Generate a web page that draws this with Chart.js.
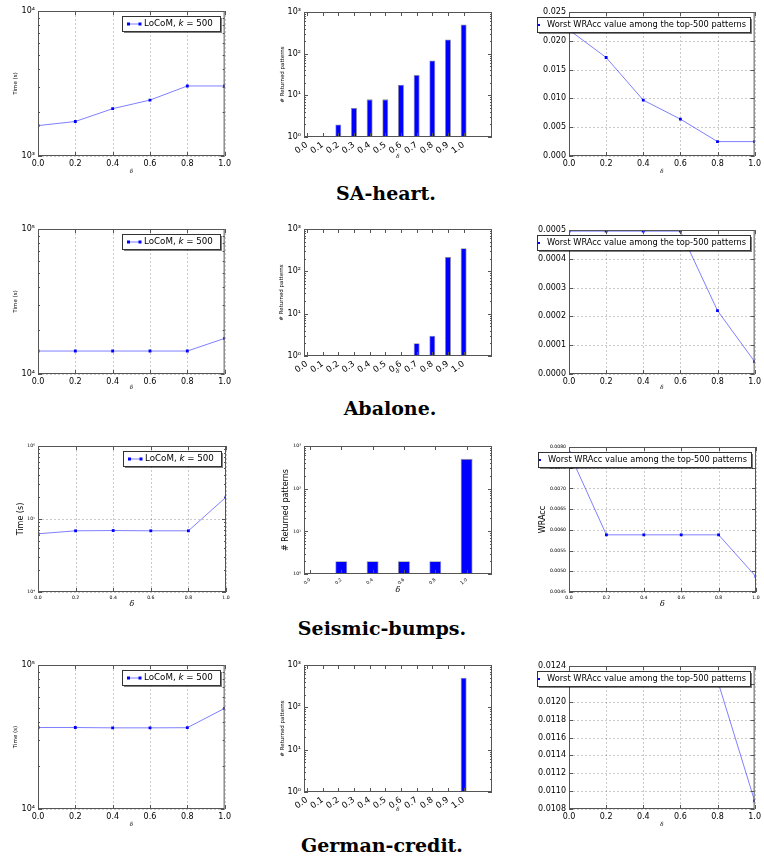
<!DOCTYPE html>
<html>
<head>
<meta charset="utf-8">
<script src="https://cdn.jsdelivr.net/npm/chart.js@4.4.1/dist/chart.umd.min.js"></script>
<style>
  body { margin: 0; background: #fff; }
  #page { position: relative; width: 764px; height: 865px; overflow: hidden; background: #fff; }
  #page canvas { position: absolute; }
  .caption {
    position: absolute; width: 400px; text-align: center;
    font-family: "DejaVu Serif", serif; font-weight: bold; font-size: 19px;
    line-height: 22px; color: #000;
  }
</style>
</head>
<body>
<div id="page"></div>
<script>
// ---- shared axes ----
const deltaValues = [0.0, 0.2, 0.4, 0.6, 0.8, 1.0];
const deltaLabels = ['0.0', '0.2', '0.4', '0.6', '0.8', '1.0'];
const fineDeltaLabels = ['0.0', '0.1', '0.2', '0.3', '0.4', '0.5', '0.6', '0.7', '0.8', '0.9', '1.0'];
const patternTicks = [1, 10, 100, 1000];

const datasetNames = ['SA-heart.', 'Abalone.', 'Seismic-bumps.', 'German-credit.'];
const wraccLegend = 'Worst WRAcc value among the top-500 patterns';

// ---- SA-heart ----
const saHeartTime = [1620, 1730, 2120, 2430, 3040, 3040];
const saHeartTimeTicks = [1e3, 1e4];
const saHeartPatterns = [1, 1, 2, 5, 8, 8, 18, 31, 69, 220, 500];
const saHeartWracc = [0.0219, 0.0171, 0.0097, 0.0064, 0.0025, 0.0025];
const saHeartWraccTicks = [0.000, 0.005, 0.010, 0.015, 0.020, 0.025];

// ---- Abalone ----
const abaloneTime = [14400, 14400, 14400, 14400, 14400, 17600];
const abaloneTimeTicks = [1e4, 1e5];
const abalonePatterns = [1, 1, 1, 1, 1, 1, 1, 2, 3, 217, 350];
const abaloneWracc = [0.000496, 0.000496, 0.000496, 0.000496, 0.00022, 0.000043];
const abaloneWraccTicks = [0.0000, 0.0001, 0.0002, 0.0003, 0.0004, 0.0005];

// ---- Seismic-bumps ----
const seismicTime = [62700, 68900, 69500, 68900, 68900, 199000];
const seismicTimeTicks = [1e4, 1e5, 1e6];
const seismicPatterns = [1, 2, 2, 2, 2, 500];
const seismicWracc = [0.00787, 0.00588, 0.00588, 0.00588, 0.00588, 0.00487];
const seismicWraccTicks = [0.0045, 0.0050, 0.0055, 0.0060, 0.0065, 0.0070, 0.0075, 0.0080];

// ---- German-credit ----
const germanTime = [36800, 36800, 36600, 36600, 36700, 50000];
const germanTimeTicks = [1e4, 1e5];
const germanPatterns = [1, 1, 1, 1, 1, 1, 1, 1, 1, 1, 500];
const germanWracc = [0.01224, 0.01224, 0.01224, 0.01224, 0.01224, 0.01089];
const germanWraccTicks = [0.0108, 0.0110, 0.0112, 0.0114, 0.0116, 0.0118, 0.0120, 0.0122, 0.0124];

Chart.defaults.font.family = '"DejaVu Sans", sans-serif';
Chart.defaults.color = '#000';

const blue = '#0000ff';
const lineBlue = 'rgba(0,0,255,0.5)';
const SUP = { '0': '⁰', '1': '¹', '2': '²', '3': '³', '4': '⁴', '5': '⁵', '6': '⁶' };
const powLabel = v => '10' + String(Math.round(Math.log10(v))).split('').map(d => SUP[d]).join('');

// dashed grid underneath, frame and inward tick marks on top
const axesDecor = {
  id: 'axesDecor',
  beforeDatasetsDraw(chart, _args, o) {
    if (!o.grid) return;
    const { ctx, chartArea: a, scales: { x, y } } = chart;
    ctx.save();
    ctx.strokeStyle = 'rgba(0,0,0,0.3)';
    ctx.lineWidth = 0.7;
    ctx.setLineDash([2, 2]);
    ctx.beginPath();
    x.ticks.forEach(t => {
      const px = Math.round(x.getPixelForValue(t.value)) + 0.5;
      ctx.moveTo(px, a.top); ctx.lineTo(px, a.bottom);
    });
    y.ticks.forEach(t => {
      const py = Math.round(y.getPixelForValue(t.value)) + 0.5;
      ctx.moveTo(a.left, py); ctx.lineTo(a.right, py);
    });
    ctx.stroke();
    ctx.restore();
  },
  afterDatasetsDraw(chart) {
    const { ctx, chartArea: a, scales: { x, y } } = chart;
    ctx.save();
    ctx.strokeStyle = '#555';
    ctx.lineWidth = 1;
    ctx.beginPath();
    x.ticks.forEach(t => {
      const px = Math.round(x.getPixelForValue(t.value)) + 0.5;
      ctx.moveTo(px, a.bottom); ctx.lineTo(px, a.bottom - 4);
      ctx.moveTo(px, a.top); ctx.lineTo(px, a.top + 4);
    });
    const yTick = (v, len) => {
      const py = Math.round(y.getPixelForValue(v)) + 0.5;
      ctx.moveTo(a.left, py); ctx.lineTo(a.left + len, py);
      ctx.moveTo(a.right, py); ctx.lineTo(a.right - len, py);
    };
    y.ticks.forEach(t => yTick(t.value, 4));
    if (y.type === 'logarithmic') {
      for (let e = Math.floor(Math.log10(y.min)); Math.pow(10, e) < y.max; e++) {
        for (let m = 2; m < 10; m++) {
          const v = m * Math.pow(10, e);
          if (v > y.min && v < y.max) yTick(v, 2);
        }
      }
    }
    ctx.stroke();
    ctx.strokeRect(a.left + 0.5, a.top + 0.5, a.right - a.left - 1, a.bottom - a.top - 1);
    ctx.restore();
  }
};

// boxed legend with a drop shadow, upper right of the axes
const legendBox = {
  id: 'legendBox',
  afterDraw(chart, _args, o) {
    if (!o.kind) return;
    const { ctx, chartArea: a } = chart;
    const isTime = o.kind === 'time';
    const size = isTime ? 8.7 : 8.25;
    const parts = isTime
      ? [['LoCoM, ', 'normal'], ['k', 'italic'], [' = 500', 'normal']]
      : [[wraccLegend, 'normal']];
    ctx.save();
    let tw = 0;
    parts.forEach(([t, st]) => { ctx.font = `${st} ${size}px "DejaVu Sans"`; tw += ctx.measureText(t).width; });
    const padL = isTime ? 22 : 10;
    const padR = isTime ? 7 : 4;
    const w = Math.round(padL + tw + padR), h = 15;
    const x0 = Math.round(a.right - 5 - w), y0 = Math.round(a.top + 5);
    ctx.fillStyle = 'rgba(0,0,0,0.5)';
    ctx.fillRect(x0 + 2, y0 + 2, w, h);
    ctx.fillStyle = '#fff';
    ctx.fillRect(x0, y0, w, h);
    ctx.strokeStyle = '#333';
    ctx.lineWidth = 1;
    ctx.strokeRect(x0 + 0.5, y0 + 0.5, w, h);
    const cy = y0 + h / 2 + 0.5;
    if (isTime) {
      ctx.strokeStyle = lineBlue;
      ctx.beginPath(); ctx.moveTo(x0 + 6, cy); ctx.lineTo(x0 + 18, cy); ctx.stroke();
      ctx.fillStyle = blue;
      ctx.fillRect(x0 + 5, cy - 1.5, 3, 3);
      ctx.fillRect(x0 + 16.5, cy - 1.5, 3, 3);
    } else {
      ctx.fillStyle = blue;
      ctx.fillRect(x0 + 1, cy - 1, 2, 2);
    }
    ctx.fillStyle = '#000';
    ctx.textBaseline = 'middle';
    let tx = x0 + padL;
    parts.forEach(([t, st]) => {
      ctx.font = `${st} ${size}px "DejaVu Sans"`;
      ctx.fillText(t, tx, cy);
      tx += ctx.measureText(t).width;
    });
    ctx.restore();
  }
};

const page = document.getElementById('page');

function buildPanel(p) {
  const isBar = p.kind === 'bars';
  const left = Math.min(p.yTitleX ?? 1e9, p.plot[0] - 34) - 10;
  const top = p.plot[1] - 10;
  const right = p.plot[2] + 8;
  const bottom = p.deltaY + 8;
  const canvas = document.createElement('canvas');
  canvas.width = right - left;
  canvas.height = bottom - top;
  canvas.style.left = left + 'px';
  canvas.style.top = top + 'px';
  page.appendChild(canvas);

  const yW = p.plot[0] - left;
  const xH = bottom - p.plot[3];
  const lhY = p.titleSize * 1.2;
  const lhX = p.deltaSize * 1.2;
  const xTickValues = isBar ? p.categories.map((_, i) => i + p.barWidth / 2) : deltaValues;
  const xTickText = isBar ? p.categories : deltaLabels;

  const x = {
    type: 'linear', min: 0, max: isBar ? p.xMax : 1, offset: false,
    grid: { display: false, drawTicks: false, offset: false },
    border: { display: false },
    afterBuildTicks: s => { s.ticks = xTickValues.map(v => ({ value: v })); },
    afterFit: s => { s.height = xH; },
    ticks: {
      autoSkip: false, padding: 3, font: { size: isBar ? p.barTickSize : p.tickSize },
      minRotation: isBar ? p.rotation : 0, maxRotation: isBar ? p.rotation : 0,
      callback: (v, i) => xTickText[i]
    },
    title: {
      display: true, text: 'δ',
      font: { size: p.deltaSize, style: 'italic', family: '"DejaVu Serif", serif' },
      padding: { top: 0, bottom: bottom - p.deltaY - lhX / 2 }
    }
  };

  const y = {
    type: p.log ? 'logarithmic' : 'linear',
    min: p.yTicks[0], max: p.yTicks[p.yTicks.length - 1],
    grid: { display: false, drawTicks: false },
    border: { display: false },
    afterBuildTicks: s => { s.ticks = p.yTicks.map(v => ({ value: v })); },
    afterFit: s => { s.width = yW; },
    ticks: {
      padding: 3, font: { size: p.tickSize },
      callback: v => p.log ? powLabel(v) : v.toFixed(p.decimals)
    },
    title: {
      display: !!p.yTitle, text: p.yTitle || '',
      font: { size: p.titleSize },
      padding: { top: p.yTitleX ? (p.yTitleX - left) - lhY / 2 : 0, bottom: 0 }
    }
  };

  const dataset = isBar ? {
    data: p.values.map((v, i) => ({ x: i + p.barWidth / 2, y: v })),
    backgroundColor: blue,
    borderColor: 'rgba(0,0,0,0.45)',
    borderWidth: c => (c.raw && c.raw.y > 1 ? 0.8 : 0),
    barPercentage: p.barWidth,
    categoryPercentage: 1
  } : {
    data: deltaValues.map((d, i) => ({ x: d, y: p.values[i] })),
    borderColor: lineBlue,
    borderWidth: 1,
    pointStyle: 'rect',
    pointRadius: 2,
    pointBackgroundColor: blue,
    pointBorderWidth: 0,
    tension: 0
  };

  new Chart(canvas, {
    type: isBar ? 'bar' : 'line',
    data: { datasets: [dataset] },
    options: {
      responsive: false,
      animation: false,
      devicePixelRatio: 1,
      events: [],
      layout: { padding: { top: p.plot[1] - top, right: right - p.plot[2], left: 0, bottom: 0 } },
      scales: { x, y },
      plugins: {
        legend: { display: false },
        tooltip: { enabled: false },
        axesDecor: { grid: !isBar },
        legendBox: { kind: p.legend || null }
      }
    },
    plugins: [axesDecor, legendBox]
  });
}

function caption(text, centerX, centerY) {
  const d = document.createElement('div');
  d.className = 'caption';
  d.textContent = text;
  d.style.left = (centerX - 200) + 'px';
  d.style.top = (centerY - 11) + 'px';
  page.appendChild(d);
}

// regular row styling: small titles, 8px tick labels
const small = { tickSize: 8, barTickSize: 8.5, titleSize: 5.5, deltaSize: 5.5 };
// the seismic row was exported with tiny tick labels and large titles
const seismicStyle = { tickSize: 4.6, barTickSize: 4.6, titleSize: 8, deltaSize: 8 };

const panels = [
  { kind: 'time', legend: 'time', log: true, values: saHeartTime, yTicks: saHeartTimeTicks,
    plot: [38, 11, 226, 156], yTitle: 'Time (s)', yTitleX: 16, deltaY: 172, ...small },
  { kind: 'bars', log: true, values: saHeartPatterns, yTicks: patternTicks, categories: fineDeltaLabels,
    xMax: 12, barWidth: 0.38, rotation: 35,
    plot: [304, 12, 492, 137], yTitle: '# Returned patterns', yTitleX: 283, deltaY: 157, ...small },
  { kind: 'wracc', legend: 'wracc', values: saHeartWracc, yTicks: saHeartWraccTicks, decimals: 3,
    plot: [569, 12, 756, 156], deltaY: 172, ...small },

  { kind: 'time', legend: 'time', log: true, values: abaloneTime, yTicks: abaloneTimeTicks,
    plot: [38, 229, 226, 374], yTitle: 'Time (s)', yTitleX: 16, deltaY: 388, ...small },
  { kind: 'bars', log: true, values: abalonePatterns, yTicks: patternTicks, categories: fineDeltaLabels,
    xMax: 12, barWidth: 0.38, rotation: 35,
    plot: [304, 229, 492, 356], yTitle: '# Returned patterns', yTitleX: 282, deltaY: 372, ...small },
  { kind: 'wracc', legend: 'wracc', values: abaloneWracc, yTicks: abaloneWraccTicks, decimals: 4,
    plot: [569, 230, 756, 374], deltaY: 388, ...small },

  { kind: 'time', legend: 'time', log: true, values: seismicTime, yTicks: seismicTimeTicks,
    plot: [38, 446, 226, 592], yTitle: 'Time (s)', yTitleX: 21, deltaY: 604, ...seismicStyle },
  { kind: 'bars', log: true, values: seismicPatterns, yTicks: patternTicks, categories: deltaLabels,
    xMax: 6, barWidth: 0.38, rotation: 40,
    plot: [304, 446, 492, 574], yTitle: '# Returned patterns', yTitleX: 286, deltaY: 590, ...seismicStyle },
  { kind: 'wracc', legend: 'wracc', values: seismicWracc, yTicks: seismicWraccTicks, decimals: 4,
    plot: [569, 447, 756, 592], yTitle: 'WRAcc', yTitleX: 543, deltaY: 604, ...seismicStyle },

  { kind: 'time', legend: 'time', log: true, values: germanTime, yTicks: germanTimeTicks,
    plot: [38, 665, 226, 809], yTitle: 'Time (s)', yTitleX: 16, deltaY: 825, ...small },
  { kind: 'bars', log: true, values: germanPatterns, yTicks: patternTicks, categories: fineDeltaLabels,
    xMax: 12, barWidth: 0.38, rotation: 35,
    plot: [304, 665, 492, 792], yTitle: '# Returned patterns', yTitleX: 283, deltaY: 810, ...small },
  { kind: 'wracc', legend: 'wracc', values: germanWracc, yTicks: germanWraccTicks, decimals: 4,
    plot: [569, 666, 756, 809], deltaY: 825, ...small }
];

panels.forEach(buildPanel);

caption(datasetNames[0], 386, 193);
caption(datasetNames[1], 390, 408);
caption(datasetNames[2], 382, 628);
caption(datasetNames[3], 382, 845);
</script>
</body>
</html>
